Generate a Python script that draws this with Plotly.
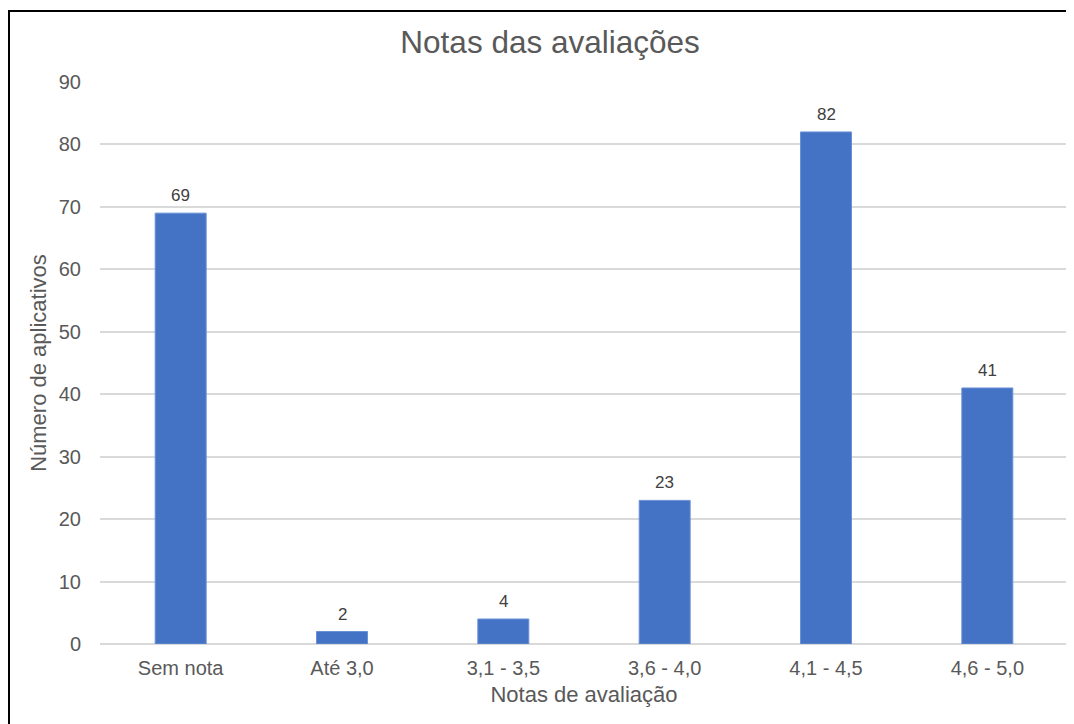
import plotly.graph_objects as go

categories = ["Sem nota", "Até 3,0", "3,1 - 3,5", "3,6 - 4,0", "4,1 - 4,5", "4,6 - 5,0"]
counts = [69, 2, 4, 23, 82, 41]
y_ticks = list(range(0, 100, 10))

BAR_COLOR = "#4472C4"
TEXT_GRAY = "#595959"

fig = go.Figure()

fig.add_trace(go.Bar(
    x=categories,
    y=counts,
    marker=dict(color=BAR_COLOR, line=dict(color="#6A90D6", width=1)),
    hoverinfo="x+y",
))

# data labels above the bars
for cat, val in zip(categories, counts):
    fig.add_annotation(
        x=cat, y=val, text=str(val), showarrow=False,
        yanchor="bottom", yshift=6,
        font=dict(family="Liberation Sans, Arial, sans-serif", size=17, color="#404040"),
    )

# frame around the chart area (left and top edges visible in the picture)
fig.add_shape(
    type="rect", xref="paper", yref="paper",
    x0=-0.094, x1=1.03, y0=-0.17, y1=1.1263,
    line=dict(color="black", width=2),
)

# the page puts the figure 8px in from the top-left corner
fig.update_layout(
    width=1066, height=716,
    margin=dict(l=92, r=6, t=74, b=80),
    paper_bgcolor="white", plot_bgcolor="white",
    font=dict(family="Liberation Sans, Arial, sans-serif", color=TEXT_GRAY),
    title=dict(
        text="Notas das avaliações", x=0.5085, xanchor="center",
        y=0.952, yanchor="middle",
        font=dict(size=31.5, color=TEXT_GRAY),
    ),
    bargap=0.684,
    showlegend=False,
    xaxis=dict(
        title=dict(text="Notas de avaliação", font=dict(size=22, color=TEXT_GRAY), standoff=8),
        tickfont=dict(size=20, color=TEXT_GRAY),
        showgrid=False, showline=False, ticks="", ticklabelstandoff=10,
    ),
    yaxis=dict(
        title=dict(text="Número de aplicativos", font=dict(size=22, color=TEXT_GRAY), standoff=6),
        tickfont=dict(size=20, color=TEXT_GRAY),
        range=[0, 90], tickvals=y_ticks,
        showgrid=True, gridcolor="#D9D9D9", gridwidth=1.5,
        zeroline=True, zerolinecolor="#D9D9D9", zerolinewidth=1.5,
        ticks="", ticklabelstandoff=18,
    ),
)

fig.write_html("out.html")
